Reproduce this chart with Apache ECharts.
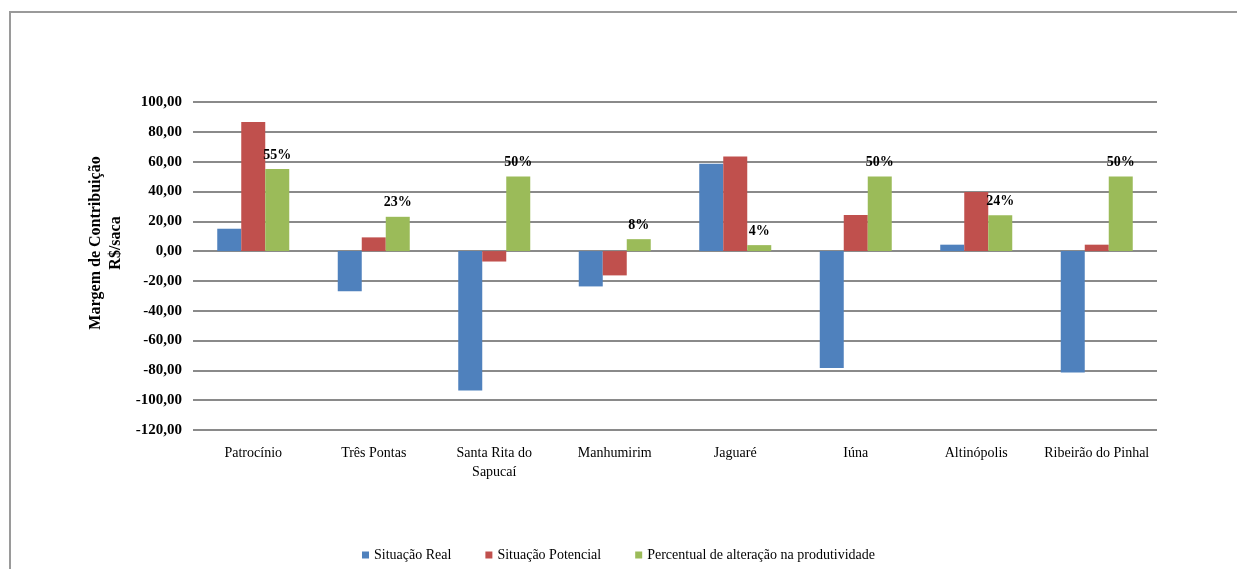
<!DOCTYPE html>
<html>
<head>
<meta charset="utf-8">
<script src="https://cdn.jsdelivr.net/npm/echarts@6/dist/echarts.min.js"></script>
<style>
html,body{margin:0;padding:0;background:#fff;}
#chart{width:1237px;height:569px;}
</style>
</head>
<body>
<div id="chart"></div>
<script>
const categories = ['Patrocínio', 'Três Pontas', 'Santa Rita do\nSapucaí', 'Manhumirim', 'Jaguaré', 'Iúna', 'Altinópolis', 'Ribeirão do Pinhal'];
const situacaoReal = [15, -27, -93.5, -23.7, 58.6, -78.4, 4.3, -81.5];
const situacaoPotencial = [86.6, 9.2, -7, -16.3, 63.5, 24.2, 39.7, 4.3];
const percentualAlteracao = [55, 23, 50, 8, 4, 50, 24, 50];
const seriesNames = ['Situação Real', 'Situação Potencial', 'Percentual de alteração na produtividade'];
const yAxisTitle = 'Margem de Contribuição\nR$/saca';

const serif = '"Liberation Serif", "Times New Roman", serif';
const chart = echarts.init(document.getElementById('chart'));
chart.setOption({
  animation: false,
  backgroundColor: '#ffffff',
  color: ['#4F81BD', '#C0504D', '#9BBB59'],
  graphic: [
    {
      type: 'rect', z: -10, silent: true,
      shape: { x: 10, y: 12, width: 1400, height: 800 },
      style: { fill: 'none', stroke: '#9a9a9a', lineWidth: 2 }
    },
    {
      type: 'text', x: 106, y: 243, rotation: Math.PI / 2,
      style: {
        text: yAxisTitle, align: 'center', verticalAlign: 'middle',
        font: 'bold 16px ' + serif, lineHeight: 20, fill: '#000'
      }
    }
  ],
  grid: { left: 193, right: 80, top: 102, bottom: 139, containLabel: false },
  legend: {
    data: seriesNames,
    left: 'center',
    top: 543,
    itemWidth: 7,
    itemHeight: 7,
    itemGap: 34,
    icon: 'rect',
    textStyle: { fontFamily: serif, fontSize: 14, color: '#000' }
  },
  xAxis: {
    type: 'category',
    data: categories,
    axisLine: { show: false },
    axisTick: { show: false },
    axisLabel: {
      interval: 0, margin: 14, fontFamily: serif, fontSize: 14,
      color: '#000', lineHeight: 19
    }
  },
  yAxis: {
    type: 'value',
    min: -120, max: 100, interval: 20,
    axisLine: { show: false },
    axisTick: { show: false },
    axisLabel: {
      margin: 11, fontFamily: serif, fontSize: 15, fontWeight: 'bold', color: '#000',
      formatter: v => v.toFixed(2).replace('.', ',')
    },
    splitLine: { lineStyle: { color: '#8a8a8a', width: 2 } }
  },
  series: [
    { name: seriesNames[0], type: 'bar', data: situacaoReal, barWidth: 24, barGap: '0%' },
    { name: seriesNames[1], type: 'bar', data: situacaoPotencial, barWidth: 24, barGap: '0%' },
    {
      name: seriesNames[2], type: 'bar', data: percentualAlteracao, barWidth: 24, barGap: '0%',
      label: {
        show: true, position: 'top', distance: 7,
        formatter: p => p.value + '%',
        fontFamily: serif, fontSize: 14, fontWeight: 'bold', color: '#000'
      }
    }
  ]
});
</script>
</body>
</html>
